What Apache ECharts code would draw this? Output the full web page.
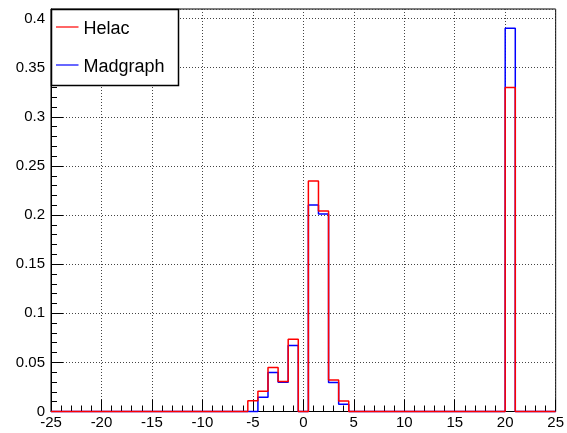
<!DOCTYPE html>
<html>
<head>
<meta charset="utf-8">
<script src="https://cdn.jsdelivr.net/npm/echarts@6/dist/echarts.min.js"></script>
<style>
  html, body { margin: 0; padding: 0; background: #fff; }
  #chart { width: 567px; height: 433px; }
</style>
</head>
<body>
<div id="chart"></div>
<script>
// Histogram bins (lower / upper edges) that hold entries; everything else is empty
const binLow  = [-5.5, -4.5, -3.5, -2.5, -1.5, -0.5, 0.5, 1.5, 2.5, 3.5, 20];
const binHigh = [-4.5, -3.5, -2.5, -1.5, -0.5,  0.5, 1.5, 2.5, 3.5, 4.5, 21];
const helac     = [0.0109, 0.0206, 0.0449, 0.0306, 0.0735, 0, 0.2347, 0.2042, 0.0321, 0.0107, 0.3300];
const madgraph  = [0,      0.0145, 0.0396, 0.0298, 0.0671, 0, 0.2102, 0.2012, 0.0294, 0.0073, 0.3903];

const seriesNames  = ['Helac', 'Madgraph'];
const seriesColors = ['#ff0000', '#0000ff'];

const xRange = [-25, 25];
const yRange = [0, 0.4098];
const xTickStep = 5;
const yTickStep = 0.05;

// Turn a list of bin contents into a step outline spanning the whole x range
function stepOutline(values) {
  const pts = [[xRange[0], 0]];
  let x = xRange[0];
  for (let i = 0; i < binLow.length; i++) {
    if (binLow[i] > x) { pts.push([x, 0]); pts.push([binLow[i], 0]); }
    pts.push([binLow[i], values[i]]);
    pts.push([binHigh[i], values[i]]);
    x = binHigh[i];
  }
  pts.push([x, 0]);
  pts.push([xRange[1], 0]);
  return pts;
}

const font = '"Liberation Sans", Arial, Helvetica, sans-serif';
const chart = echarts.init(document.getElementById('chart'), null, { renderer: 'canvas' });

const axisCommon = {
  axisLine: { show: true, onZero: false, lineStyle: { color: '#000', width: 1 } },
  axisTick: { show: true, inside: true, length: 12, lineStyle: { color: '#000', width: 1 } },
  minorTick: { show: true, splitNumber: 5, length: 6, lineStyle: { color: '#000', width: 1 } },
  splitLine: { show: true, lineStyle: { color: '#444', width: 1, type: [1, 2] } },
  axisLabel: { color: '#000', fontFamily: font, fontSize: 15 }
};

// Legend box: framed panel with a line sample and a name per series
const legendBox = { x: 51.5, y: 9.5, w: 127, h: 76, rowGap: 38, firstRow: 18.5 };
const legendGraphics = [{
  type: 'rect', z: 5, silent: true,
  shape: { x: legendBox.x, y: legendBox.y, width: legendBox.w, height: legendBox.h },
  style: { fill: '#fff', stroke: '#000', lineWidth: 1.5 }
}];
seriesNames.forEach((name, i) => {
  const cy = legendBox.y + legendBox.firstRow + i * legendBox.rowGap;
  legendGraphics.push({
    type: 'line', z: 6, silent: true,
    shape: { x1: legendBox.x + 4.5, y1: cy - 1, x2: legendBox.x + 27, y2: cy - 1 },
    style: { stroke: seriesColors[i], lineWidth: 1.2 }
  });
  legendGraphics.push({
    type: 'text', z: 6, silent: true,
    x: legendBox.x + 32, y: cy + 1,
    style: {
      text: name, fill: '#000', font: '18px ' + font,
      textAlign: 'left', textVerticalAlign: 'middle'
    }
  });
});

chart.setOption({
  animation: false,
  backgroundColor: '#fff',
  grid: {
    left: 51, right: 7.5, top: 9, bottom: 21.5,
    show: true, borderColor: '#000', borderWidth: 1, backgroundColor: '#fff'
  },
  xAxis: Object.assign({}, axisCommon, {
    type: 'value', min: xRange[0], max: xRange[1], interval: xTickStep,
    axisLabel: Object.assign({}, axisCommon.axisLabel, { margin: 4 })
  }),
  yAxis: Object.assign({}, axisCommon, {
    type: 'value', min: yRange[0], max: yRange[1], interval: yTickStep,
    axisLabel: Object.assign({}, axisCommon.axisLabel, {
      margin: 6, showMaxLabel: false,
      formatter: v => String(+v.toFixed(2))
    })
  }),
  graphic: legendGraphics,
  series: [
    {
      name: seriesNames[1], type: 'line', data: stepOutline(madgraph),
      symbol: 'none', clip: false, z: 3,
      lineStyle: { color: seriesColors[1], width: 1.5 }, itemStyle: { color: seriesColors[1] }
    },
    {
      name: seriesNames[0], type: 'line', data: stepOutline(helac),
      symbol: 'none', clip: false, z: 4,
      lineStyle: { color: seriesColors[0], width: 1.5 }, itemStyle: { color: seriesColors[0] }
    }
  ]
});
</script>
</body>
</html>
